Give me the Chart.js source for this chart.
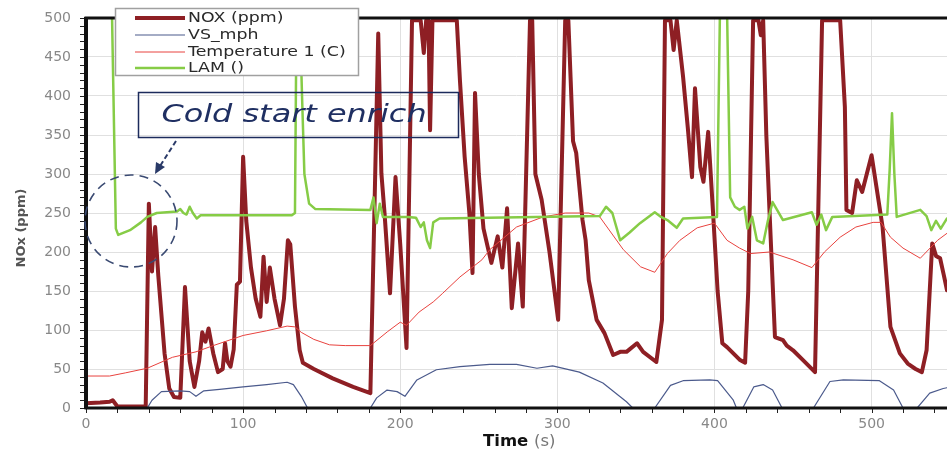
<!DOCTYPE html>
<html>
<head>
<meta charset="utf-8">
<title>NOx cold start</title>
<script src="https://cdn.jsdelivr.net/npm/chart.js@4.4.1/dist/chart.umd.min.js"></script>
<style>
  html, body { margin: 0; padding: 0; background: #fff; }
</style>
</head>
<body>
<canvas id="noxChart" width="947" height="451"></canvas>
<script>
// NOX (ppm) - values that run off the top are held at the 500 ceiling
const noxTime = [0, 9, 15, 17, 20, 38, 40, 42, 44, 46,
  48, 50, 53, 56, 60, 63, 66, 69, 72, 74,
  76, 78, 81, 84, 87, 88.5, 90, 92, 94, 96,
  98, 100, 102, 105, 108, 111, 113, 115, 117, 120,
  123.5, 126, 128.5, 130, 133, 136, 138, 145, 157, 170,
  181, 183, 186, 188, 190, 193.5, 197, 200, 204, 207.5,
  213, 215, 216.5, 218, 219, 220.5, 236, 238, 241, 244,
  246, 247.6, 250, 253, 258, 262, 265, 268, 271, 275,
  278, 282.6, 284, 286, 290, 295, 300.5, 305, 307, 310,
  312, 316, 318, 320, 325, 330, 335.5, 340, 344, 350.7,
  354.6, 363, 366.6, 368.5, 372, 374, 376, 380, 383, 385.7,
  387.6, 391, 393, 396, 399, 402, 405, 408, 412, 416,
  419.5, 421.5, 424.6, 428, 429.5, 431, 433, 435, 438.5, 443.6,
  446, 450, 457, 464, 468.5, 480, 483, 484, 487.6, 490.6,
  494, 500, 507, 512, 518, 523, 528, 532, 535, 538.6,
  541, 543.6, 546, 548];
const noxPpm = [6, 7, 8, 10, 2, 2, 262, 175, 232, 170,
  120, 70, 25, 14, 13, 155, 60, 27, 60, 97,
  85, 102, 70, 46, 50, 83, 60, 53, 75, 158,
  162, 322, 240, 180, 140, 117, 194, 136, 180, 140,
  106, 140, 215, 210, 130, 74, 58, 50, 38, 27,
  19, 200, 480, 301, 250, 147, 296, 210, 77, 497,
  497, 455, 497, 497, 356, 497, 497, 420, 322, 250,
  173, 404, 300, 230, 186, 220, 180, 256, 128, 211,
  130, 497, 497, 300, 267, 200, 113, 497, 497, 342,
  327, 241, 215, 164, 113, 96, 68, 72, 72, 83,
  72, 59, 113, 497, 497, 459, 497, 425, 360, 296,
  410, 309, 290, 354, 254, 150, 83, 78, 70, 62,
  58, 150, 497, 497, 478, 497, 350, 254, 91, 87,
  80, 74, 60, 46, 497, 497, 386, 254, 250, 292,
  277, 324, 232, 104, 70, 57, 50, 46, 74, 211,
  195, 192, 170, 151];

// vehicle speed
const vsTime = [0, 39, 42, 48, 60, 66, 70, 75, 85, 100,
  115, 128, 132, 137, 141, 181, 185, 191.6, 198, 203,
  210.6, 223, 238, 257, 274, 287, 297, 314, 329, 344,
  348, 362, 372, 380, 397, 402, 412, 414, 418, 425,
  431, 437, 443, 463, 473.5, 482, 505, 514, 520, 529,
  537, 545.6, 548];
const vsMph = [0, 0, 10, 21, 22, 21, 15, 22, 24, 27,
  30, 33, 30, 15, 0, 0, 13, 23, 21, 15,
  36, 49, 53, 56, 56, 51, 54, 46, 32, 8,
  0, 0, 29, 35, 36, 35, 10, 0, 0, 27,
  30, 23, 0, 0, 34, 36, 35, 23, 0, 0,
  19, 25, 26];

// temperature 1
const tempTime = [0, 15, 25, 39, 55, 70, 81, 100, 115, 128,
  133, 137, 145, 155, 165, 181, 192, 200, 204, 212,
  221, 227, 238, 252, 257, 274, 291, 305, 320, 327,
  342, 353, 362, 370, 378, 389, 400, 408, 416, 423,
  435, 450, 462, 470, 480, 490, 501, 506, 512, 520,
  531, 542, 548];
const tempC = [41, 41, 45, 51, 65, 72, 80, 93, 99, 105,
  104, 97, 88, 81, 80, 80, 98, 110, 106, 123,
  136, 147, 168, 190, 203, 232, 245, 250, 250, 245,
  203, 181, 174, 198, 215, 231, 237, 215, 205, 198,
  200, 190, 180, 200, 219, 232, 238, 238, 219, 205,
  192, 215, 224];

// lambda (off-scale values above 500 get clipped)
const lamTime = [0, 16.5, 19, 20.5, 28, 35, 39, 45, 51.5, 58,
  60, 62, 64, 66, 68, 70.5, 73, 131, 133, 134,
  136, 137.5, 139, 142, 146, 181, 183, 185, 187, 189,
  205, 210, 213, 215, 217, 219, 221, 225, 327, 331,
  335, 340, 346, 352.6, 362, 366, 370, 376, 380, 401.6,
  403.5, 408, 410, 413, 416, 419, 421, 424, 427, 431,
  434, 437, 443.6, 462, 465, 468, 471, 475, 510, 511.5,
  513, 514.5, 516, 531, 535, 538, 541, 544, 548];
const lamValue = [510, 510, 230, 222, 228, 238, 245, 250, 251, 252,
  255, 250, 248, 258, 250, 243, 247, 247, 250, 510,
  510, 400, 300, 262, 255, 254, 270, 237, 262, 245,
  245, 244, 232, 238, 215, 205, 238, 243, 246, 258,
  250, 215, 225, 237, 251, 245, 241, 231, 243, 245,
  510, 510, 270, 258, 254, 258, 230, 245, 215, 211,
  240, 264, 241, 251, 235, 248, 228, 245, 248, 305,
  378, 300, 245, 254, 246, 228, 240, 230, 243];

const seriesLabels = ['NOX (ppm)', 'VS_mph', 'Temperature 1 (C)', 'LAM ()'];
const seriesColors = ['#8e1f24', '#4b5a8c', '#e8423e', '#86cc46'];
const seriesWidths = [4, 1.2, 1, 2.5];

const FONT = '"DejaVu Sans", "Liberation Sans", Arial, sans-serif';

function toPoints(times, values) {
  return times.map((t, i) => ({ x: t, y: values[i] }));
}

// the original picture is a bit wide, so text drawn here gets stretched sideways
function wideText(ctx, text, x, y, sx) {
  ctx.save();
  ctx.translate(x, y);
  ctx.scale(sx, 1);
  ctx.fillText(text, 0, 0);
  ctx.restore();
}

// frame, minor ticks, legend box, titles and the cold start note
const decorations = {
  id: 'decorations',
  afterDraw(chart) {
    const ctx = chart.ctx;
    const ca = chart.chartArea;
    const xs = chart.scales.x;
    const ys = chart.scales.y;
    ctx.save();

    // small tick marks outside the axes
    ctx.strokeStyle = '#222';
    ctx.lineWidth = 1;
    ctx.beginPath();
    for (let v = 0; v <= 500; v += 10) {
      const py = Math.round(ys.getPixelForValue(v)) + 0.5;
      ctx.moveTo(ca.left - 6, py);
      ctx.lineTo(ca.left, py);
    }
    for (let v = 0; v <= 540; v += 20) {
      const px = Math.round(xs.getPixelForValue(v)) + 0.5;
      ctx.moveTo(px, ca.bottom);
      ctx.lineTo(px, ca.bottom + 5);
    }
    ctx.stroke();

    // thick black frame (top, left, bottom)
    ctx.strokeStyle = '#111';
    ctx.lineWidth = 3;
    ctx.beginPath();
    ctx.moveTo(ca.right, ca.top);
    ctx.lineTo(ca.left, ca.top);
    ctx.lineTo(ca.left, ca.bottom);
    ctx.lineTo(ca.right, ca.bottom);
    ctx.stroke();
    ctx.lineWidth = 4;
    ctx.beginPath();
    ctx.moveTo(ca.left, ca.top - 1);
    ctx.lineTo(ca.left, ca.bottom + 1);
    ctx.stroke();

    // legend
    ctx.fillStyle = '#fff';
    ctx.fillRect(115, 8, 243, 67);
    ctx.strokeStyle = '#a0a0a0';
    ctx.lineWidth = 1.5;
    ctx.strokeRect(115.5, 8.5, 243, 67);
    const rows = [18, 35, 52, 68];
    chart.data.datasets.forEach((ds, i) => {
      ctx.strokeStyle = ds.borderColor;
      ctx.lineWidth = ds.borderWidth;
      ctx.beginPath();
      ctx.moveTo(135, rows[i]);
      ctx.lineTo(185, rows[i]);
      ctx.stroke();
      ctx.fillStyle = '#2a2a2a';
      ctx.font = '14px ' + FONT;
      ctx.textBaseline = 'middle';
      ctx.textAlign = 'left';
      wideText(ctx, ds.label, 188, rows[i], 1.24);
    });

    // note box
    ctx.strokeStyle = '#1c2b5c';
    ctx.lineWidth = 1.5;
    ctx.strokeRect(138.5, 92.5, 320, 45);
    ctx.fillStyle = '#1f2f62';
    ctx.font = 'italic 24px ' + FONT;
    ctx.textAlign = 'center';
    ctx.textBaseline = 'middle';
    wideText(ctx, 'Cold start enrich', 294, 116, 1.33);

    // dashed circle and arrow
    ctx.strokeStyle = '#3a4a72';
    ctx.lineWidth = 1.6;
    ctx.setLineDash([9, 6]);
    ctx.beginPath();
    ctx.ellipse(131, 221, 46, 46, 0, 0, Math.PI * 2);
    ctx.stroke();
    ctx.strokeStyle = '#2a3a68';
    ctx.lineWidth = 2;
    ctx.setLineDash([5, 3]);
    ctx.beginPath();
    ctx.moveTo(176, 141);
    ctx.lineTo(160, 166);
    ctx.stroke();
    ctx.setLineDash([]);
    ctx.fillStyle = '#2a3a68';
    ctx.beginPath();
    ctx.moveTo(155, 174);
    ctx.lineTo(156, 162);
    ctx.lineTo(165, 167);
    ctx.closePath();
    ctx.fill();

    // axis titles
    ctx.fillStyle = '#555';
    ctx.font = 'bold 13px ' + FONT;
    ctx.save();
    ctx.translate(22, 228);
    ctx.rotate(-Math.PI / 2);
    ctx.textAlign = 'center';
    ctx.fillText('NOx (ppm)', 0, 0);
    ctx.restore();

    ctx.textAlign = 'left';
    ctx.textBaseline = 'alphabetic';
    ctx.font = 'bold 15px ' + FONT;
    ctx.fillStyle = '#111';
    wideText(ctx, 'Time', 483, 446, 1.1);
    const w = ctx.measureText('Time ').width * 1.1;
    ctx.font = '15px ' + FONT;
    ctx.fillStyle = '#777';
    wideText(ctx, '(s)', 483 + w, 446, 1.1);
    ctx.restore();
  }
};

const ctx = document.getElementById('noxChart').getContext('2d');
new Chart(ctx, {
  type: 'line',
  data: {
    datasets: [
      { label: seriesLabels[0], data: toPoints(noxTime, noxPpm), order: 4 },
      { label: seriesLabels[1], data: toPoints(vsTime, vsMph), order: 3 },
      { label: seriesLabels[2], data: toPoints(tempTime, tempC), order: 2 },
      { label: seriesLabels[3], data: toPoints(lamTime, lamValue), order: 1 }
    ].map((ds, i) => Object.assign(ds, {
      borderColor: seriesColors[i],
      borderWidth: seriesWidths[i],
      fill: false
    }))
  },
  options: {
    responsive: false,
    devicePixelRatio: 1,
    animation: false,
    layout: { padding: { top: 18, left: 0, right: 0, bottom: 0 } },
    elements: {
      point: { radius: 0 },
      line: { tension: 0, borderJoinStyle: 'round', borderCapStyle: 'round' }
    },
    plugins: {
      legend: { display: false },
      tooltip: { enabled: false }
    },
    scales: {
      x: {
        type: 'linear',
        min: 0,
        max: 548,
        border: { display: false },
        grid: {
          color: c => (c.tick && c.tick.value % 100 === 0 ? '#e0e0e0' : 'rgba(0,0,0,0)'),
          drawTicks: true,
          tickColor: 'rgba(0,0,0,0)',
          tickLength: 5
        },
        ticks: {
          stepSize: 20,
          includeBounds: false,
          autoSkip: false,
          maxRotation: 0,
          padding: 3,
          color: '#888',
          font: { family: FONT, size: 14 },
          callback: v => (v % 100 === 0 ? v : '')
        },
        afterFit: s => { s.height = 43; }
      },
      y: {
        min: 0,
        max: 500,
        border: { display: false },
        grid: {
          color: c => (c.tick && c.tick.value % 50 === 0 ? '#e0e0e0' : 'rgba(0,0,0,0)'),
          drawTicks: true,
          tickColor: 'rgba(0,0,0,0)',
          tickLength: 7
        },
        ticks: {
          stepSize: 10,
          autoSkip: false,
          padding: 8,
          color: '#888',
          font: { family: FONT, size: 14 },
          callback: v => (v % 50 === 0 ? v : '')
        },
        afterFit: s => { s.width = 86; }
      }
    }
  },
  plugins: [decorations]
});
</script>
</body>
</html>
